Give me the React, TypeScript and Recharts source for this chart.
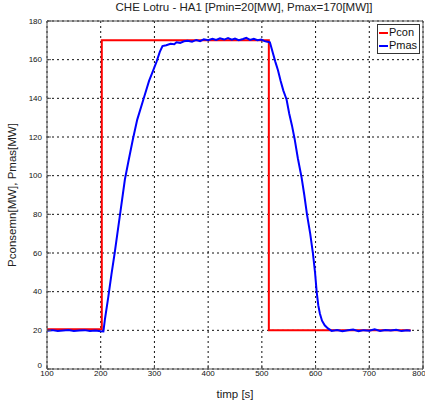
import { LineChart, Line, XAxis, YAxis, CartesianGrid, Legend, ReferenceLine } from "recharts";

// Pcon: set-point (step)
const pconTime = [100, 202, 202, 513, 513, 777];
const pconValue = [20.6, 20.6, 170, 170, 20, 20];

// Pmas: measured power
const pmasTime = [
  100, 110, 120, 130, 140, 150, 160, 170, 180, 190, 200, 205,
  208, 214, 220, 226, 231, 236, 241, 245, 252, 260, 268, 279, 290, 297, 304, 310, 315,
  322, 330, 337, 341, 348, 355, 362, 370, 378, 385, 392, 400, 408, 415, 422, 430, 437,
  444, 450, 457, 465, 471, 478, 485, 492, 499, 505, 510, 515,
  520, 525, 530, 535, 540, 546, 551, 556, 561, 567, 574, 579, 584, 590, 595, 599, 602,
  605, 608, 612, 617, 623, 630, 640, 650, 660, 670, 680, 690, 700, 710, 720, 730, 740,
  750, 760, 770, 777,
];
const pmasValue = [
  19.8, 20.1, 19.6, 19.9, 20.2, 19.7, 19.9, 20.1, 19.6, 19.9, 19.5, 19.4,
  26, 37, 49, 60, 70, 80, 90, 98, 108, 119, 129, 139, 149, 154, 159, 164, 167,
  167.5, 168.2, 168, 169, 168.7, 169.5, 169.8, 169.3, 170.2, 169.6, 170.5, 170.1, 170.8, 170.2, 171, 170.4, 171.2,
  170.3, 170.9, 170.1, 170.7, 171.3, 170.2, 170.8, 170.1, 170.4, 169.6, 169.3, 169,
  164, 159, 154.5, 149, 144, 139.4, 132, 126, 119, 109, 99, 90, 80, 70, 60, 50, 40,
  33, 28.7, 25, 22.6, 21, 19.7, 20.2, 19.5, 20, 20.4, 19.6, 20.1, 19.8, 20.5, 19.7, 20.2, 19.9,
  20.3, 19.6, 20, 19.8,
];

const xTicks = [100, 200, 300, 400, 500, 600, 700, 800];
const yTicks = [0, 20, 40, 60, 80, 100, 120, 140, 160, 180];

const pconData = pconTime.map((t, i) => ({ t, v: pconValue[i] }));
const pmasData = pmasTime.map((t, i) => ({ t, v: pmasValue[i] }));

const font = "'Liberation Sans', Arial, Helvetica, sans-serif";

// y tick: the "0" sits a little higher, as in the original (avoids the x "100")
function YTick(props: any) {
  const { x, y, payload } = props;
  const lift = payload.value === 0 ? -4 : 0;
  return (
    <text x={x} y={y + lift} dy="0.35em" textAnchor="end" fill="#111" fontSize={8} fontFamily={font}>
      {payload.value}
    </text>
  );
}

function LegendBox() {
  const items = [
    { name: "Pcon", color: "#ff0000" },
    { name: "Pmas", color: "#0000ff" },
  ];
  return (
    <div
      style={{
        border: "1px solid #333",
        background: "#fff",
        padding: "1px 2px 1px 1px",
        fontFamily: font,
        fontSize: "11px",
        lineHeight: "13px",
        color: "#111",
      }}
    >
      {items.map((it) => (
        <div key={it.name} style={{ display: "flex", alignItems: "center" }}>
          <svg width="10" height="13">
            <line x1="0" y1="7" x2="9" y2="7" stroke={it.color} strokeWidth="2" />
          </svg>
          <span>{it.name}</span>
        </div>
      ))}
    </div>
  );
}

export default function App() {
  return (
    <div style={{ position: "absolute", left: 0, top: 0, width: 425, height: 404, background: "#fff" }}>
      <div
        style={{
          position: "absolute",
          top: 0,
          left: 0,
          width: 488,
          textAlign: "center",
          fontFamily: font,
          fontSize: "11.5px",
          lineHeight: "15px",
          color: "#222",
        }}
      >
        CHE Lotru - HA1 [Pmin=20[MW], Pmax=170[MW]]
      </div>
      <LineChart width={425} height={404} margin={{ top: 21, right: 2, left: 0, bottom: 0 }}>
        <CartesianGrid stroke="#111" strokeDasharray="2 3" />
        <XAxis
          type="number"
          dataKey="t"
          domain={[100, 800]}
          ticks={xTicks}
          allowDataOverflow
          height={35}
          stroke="#555"
          tickSize={-4}
          tickMargin={5}
          tick={{ fill: "#111", fontSize: 8, fontFamily: font }}
          label={{ value: "timp [s]", position: "insideBottom", offset: 6, fill: "#222", fontSize: 11.5, fontFamily: font }}
        />
        <YAxis
          type="number"
          domain={[0, 180]}
          ticks={yTicks}
          width={47}
          stroke="#555"
          tickSize={-4}
          tickMargin={9}
          tick={<YTick />}
          label={{
            value: "Pconsemn[MW], Pmas[MW]",
            angle: -90,
            position: "insideLeft",
            offset: 12,
            fill: "#222",
            fontSize: 11.5,
            fontFamily: font,
            style: { textAnchor: "middle" },
          }}
        />
        <ReferenceLine y={180} stroke="#555" />
        <ReferenceLine x={800} stroke="#555" />
        <Legend
          verticalAlign="middle"
          align="center"
          content={() => <LegendBox />}
          wrapperStyle={{ position: "absolute", top: 24, left: 377, width: "auto" }}
        />
        <Line
          data={pconData}
          dataKey="v"
          name="Pcon"
          type="linear"
          stroke="#ff0000"
          strokeWidth={2}
          dot={false}
          isAnimationActive={false}
        />
        <Line
          data={pmasData}
          dataKey="v"
          name="Pmas"
          type="linear"
          stroke="#0000ff"
          strokeWidth={2}
          dot={false}
          isAnimationActive={false}
        />
      </LineChart>
    </div>
  );
}
